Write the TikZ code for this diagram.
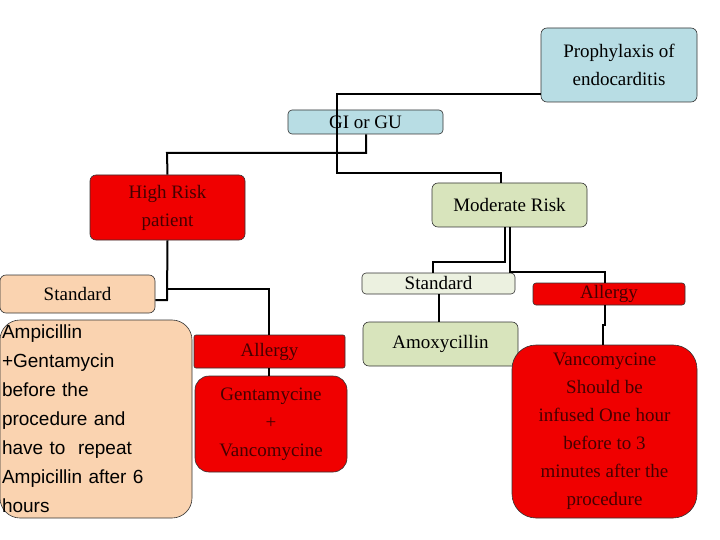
\documentclass[tikz,border=0pt]{standalone}
\usepackage{fontspec}
\setmainfont{Liberation Serif}
\newfontfamily\sansf{Liberation Sans}
\begin{document}
\begin{tikzpicture}[x=1pt,y=-1pt,
 box/.style={draw=black!80,line width=0.6pt,rounded corners=6pt,inner sep=0pt,align=center,font=\fontsize{19}{28}\selectfont},
 blue/.style={box,fill={rgb,255:red,184;green,221;blue,228}},
 red/.style={box,fill={rgb,255:red,240;green,0;blue,0},text={rgb,255:red,70;green,0;blue,0}},
 grn/.style={box,fill={rgb,255:red,216;green,228;blue,188}},
 pale/.style={box,fill={rgb,255:red,236;green,241;blue,224}},
 peach/.style={box,fill={rgb,255:red,250;green,211;blue,176}},
 ln/.style={line width=2pt,black}]
\useasboundingbox (0,0) rectangle (720,540);
\node[blue,minimum width=156pt,minimum height=74pt] (pro) at (619,65) {Prophylaxis of\\endocarditis};
\node[blue,minimum width=155pt,minimum height=24pt,rounded corners=4pt] (gi) at (365.5,122) {GI or GU};
\node[red,minimum width=155pt,minimum height=65pt] (hr) at (167.5,207.5) {High Risk\\patient};
\node[grn,minimum width=155pt,minimum height=44pt] (mr) at (509.5,205) {Moderate Risk};
\node[peach,minimum width=155pt,minimum height=38pt] (st1) at (77.5,294) {Standard};
\node[peach,minimum width=192pt,minimum height=198pt,rounded corners=20pt,align=left,font=\sansf\fontsize{19}{29}\selectfont,text width=188pt] (amp) at (96,419) {Ampicillin\\+Gentamycin\\before the\\procedure and\\have to\ \ repeat\\Ampicillin after 6\\hours};
\node[red,minimum width=151pt,minimum height=33pt,rounded corners=2pt] (al1) at (269.5,351.5) {Allergy};
\node[red,minimum width=152pt,minimum height=96pt,rounded corners=14pt] (gen) at (271,424) {Gentamycine\\+\\Vancomycine};
\node[pale,minimum width=153pt,minimum height=21pt,rounded corners=4pt] (st2) at (438.5,283.5) {Standard};
\node[grn,minimum width=155pt,minimum height=44pt] (amx) at (440.5,344) {Amoxycillin};
\node[red,minimum width=152pt,minimum height=22pt,rounded corners=3pt] (al2) at (609,294) {Allergy};
\node[red,minimum width=185pt,minimum height=173pt,rounded corners=24pt] (van) at (604.5,431.5) {Vancomycine\\Should be\\infused One hour\\before to 3\\minutes after the\\procedure};
\draw[ln] (pro.west|-0,94) -- (337,94) -- (337,173) -- (501,173) -- (mr.north-|501,0);
\draw[ln] (gi.south-|366,0) -- (366,153) -- (167,153) -- (hr.north);
\draw[ln] (hr.south) -- (167,300) -- (st1.east|-0,300);
\draw[ln] (167,289) -- (269,289) -- (al1.north-|269,0);
\draw[ln] (al1.south-|269,0) -- (gen.north-|269,0);
\draw[ln] (mr.south-|505,0) -- (505,262) -- (433,262) -- (st2.north-|433,0);
\draw[ln] (mr.south-|510,0) -- (510,272) -- (605,272) -- (al2.north-|605,0);
\draw[ln] (st2.south) -- (amx.north-|438.5,0);
\draw[ln] (al2.south-|605,0) -- (605,325) -- (603,325) -- (van.north-|603,0);
\end{tikzpicture}
\end{document}
